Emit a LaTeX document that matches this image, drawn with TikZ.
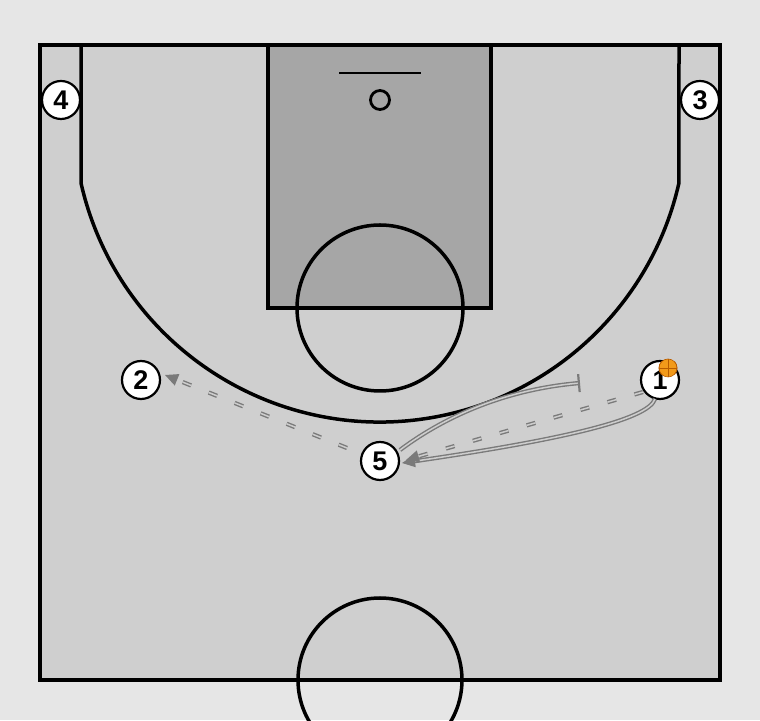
\documentclass[tikz,border=0pt]{standalone}
\usepackage{fontspec}
\newfontfamily\numfont{Liberation Sans}
\usetikzlibrary{arrows.meta}
\definecolor{outbg}{HTML}{E6E6E6}
\definecolor{courtbg}{HTML}{CFCFCF}
\definecolor{paintbg}{HTML}{A6A6A6}
\definecolor{mvline}{HTML}{7A7A7A}
\definecolor{mvinner}{HTML}{CDCDCD}
\definecolor{ballfill}{HTML}{F29A1A}
\definecolor{ballline}{HTML}{B85C00}
\tikzset{
  courtline/.style={line width=3.5pt, black},
  player/.style={circle, draw=black, line width=2.2pt, fill=white, minimum size=38pt, inner sep=0pt, font=\numfont\bfseries\fontsize{27}{27}\selectfont},
  mvbase/.style={draw=mvline, line width=1.4pt, double=mvinner, double distance=1.5pt},
  passline/.style={mvbase, dash pattern=on 9pt off 19pt, -{Triangle[length=13pt,width=12pt,fill=mvline,color=mvline]}},
  cutline/.style={mvbase, -{Triangle[length=13pt,width=12pt,fill=mvline,color=mvline]}},
  screenline/.style={mvbase, -{Bar[width=18pt,line width=2.2pt,color=mvline]}}
}
\begin{document}
\begin{tikzpicture}[x=1pt,y=1pt]
\useasboundingbox (0,0) rectangle (760,720);
\clip (0,0) rectangle (760,720);
\fill[outbg] (0,0) rectangle (760,720);
% court
\fill[courtbg] (40,40) rectangle (720,675);
\fill[paintbg] (268,412) rectangle (491,675);
\draw[courtline] (268,675) -- (268,412) -- (491,412) -- (491,675);
\draw[courtline] (380,412) circle[radius=83];
\draw[courtline] (81,675) -- (81,537) arc[start angle=192.72, end angle=347.28, radius=306.5] -- (679,675);
\draw[line width=2pt] (339,647) -- (421,647);
\draw[line width=2.8pt] (380,620) circle[radius=9.5];
\draw[courtline] (380,40) circle[radius=82];
\draw[courtline] (40,40) rectangle (720,675);
% players
\node[player] (p4) at (61,620) {4};
\node[player] (p3) at (700,620) {3};
\node[player] (p2) at (141,340) {2};
\node[player] (p5) at (380,259) {5};
\node[player] (p1) at (660,340) {1};
% ball
\node[circle, fill=ballfill, draw=ballline, line width=0.6pt, minimum size=18pt, inner sep=0pt] (ball) at (668,352) {};
\draw[ballline, line width=0.6pt] (ball.west) -- (ball.east);
\draw[ballline, line width=0.6pt] (ball.north) -- (ball.south);
\draw[ballline, line width=0.6pt] (ball.north west) to[bend right=40] (ball.south west);
\draw[ballline, line width=0.6pt] (ball.north east) to[bend left=40] (ball.south east);
% screen by 5
\coordinate (scr) at (580,337);
\draw[screenline] ([shift={(20,11)}]p5.center) .. controls (440,300) and (500,330) .. (scr);
% cut by 1
\draw[cutline] ([shift={(-5,-19)}]p1.center) .. controls (648,300) and (560,280) .. ([shift={(22,-2)}]p5.center);
% passes
\draw[passline] ([shift={(-17,-12)}]p1.center) -- ([shift={(26,1)}]p5.center);
\draw[passline] ([shift={(-33,13)}]p5.center) -- ([shift={(24,5)}]p2.center);
\end{tikzpicture}
\end{document}
